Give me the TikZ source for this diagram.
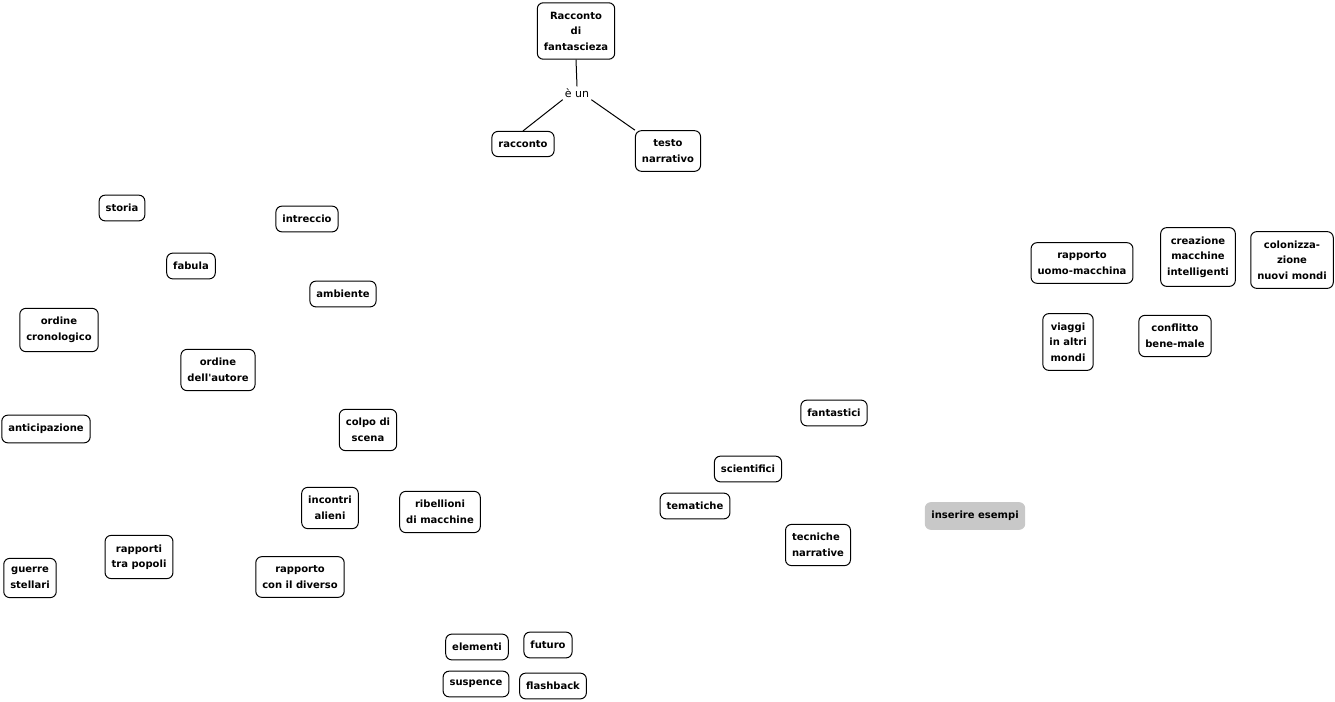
\documentclass[tikz,border=0pt]{standalone}
\usepackage{fontspec}
\setmainfont{DejaVu Sans}
\usepackage{tikz}
\usetikzlibrary{positioning}
\definecolor{mapGray}{RGB}{200,200,200}

\begin{document}
\begin{tikzpicture}[
    x=1pt, y=-1pt,
    font=\fontsize{10}{15.5}\selectfont,
    concept/.style={draw, line width=1pt, rounded corners=6pt, fill=white, align=center, inner xsep=6.5pt, inner ysep=9pt, font=\fontsize{10}{15.5}\selectfont\bfseries},
    note/.style={concept, draw=none, fill=mapGray},
    link/.style={line width=1pt}
  ]
    \useasboundingbox (0,0) rectangle (1335,701);

    % root and its link phrase
    \node[concept] (root) at (576,31) {Racconto\\di\\fantascieza};
    \node[inner sep=2pt, font=\fontsize{11}{13}\selectfont] (eun) at (577,93) {è un};
    \node[concept] (racc) at (523,144) {racconto};
    \node[concept] (testo) at (668,151) {testo\\narrativo};
    \draw[link] (root.south) -- (eun.north);
    \draw[link] (eun.south west) -- (racc.north);
    \draw[link] (eun.south east) -- (testo.north west);

    % left block
    \node[concept] (storia) at (122,208) {storia};
    \node[concept] (intreccio) at (307,219) {intreccio};
    \node[concept] (fabula) at (191,266) {fabula};
    \node[concept] (ambiente) at (343,294) {ambiente};
    \node[concept] (cronologico) at (59,330) {ordine\\cronologico};
    \node[concept] (autore) at (218,370) {ordine\\dell\textquotesingle autore};
    \node[concept] (anticipazione) at (46,429) {anticipazione};
    \node[concept] (colpo) at (368,430) {colpo di\\scena};
    \node[concept] (alieni) at (330,508) {incontri\\alieni};
    \node[concept] (ribellioni) at (440,512) {ribellioni\\di macchine};
    \node[concept] (popoli) at (139,557) {rapporti\\tra popoli};
    \node[concept] (guerre) at (30,578) {guerre\\stellari};
    \node[concept] (diverso) at (300,577) {rapporto\\con il diverso};

    % bottom
    \node[concept] (elementi) at (477,647) {elementi};
    \node[concept] (futuro) at (548,645) {futuro};
    \node[concept] (suspence) at (476,684) {suspence};
    \node[concept] (flashback) at (553,686) {flashback};

    % middle
    \node[concept] (fantastici) at (834,413) {fantastici};
    \node[concept] (scientifici) at (748,469) {scientifici};
    \node[concept] (tematiche) at (695,506) {tematiche};
    \node[concept, align=left] (tecniche) at (818,545) {tecniche\\narrative};
    \node[note] (esempi) at (975,516) {inserire esempi};

    % right block
    \node[concept] (uomo) at (1082,263) {rapporto\\uomo-macchina};
    \node[concept] (creazione) at (1198,257) {creazione\\macchine\\intelligenti};
    \node[concept] (colonizzazione) at (1292,260) {colonizza-\\zione\\nuovi mondi};
    \node[concept] (viaggi) at (1068,342) {viaggi\\in altri\\mondi};
    \node[concept] (conflitto) at (1175,336) {conflitto\\bene-male};
  \end{tikzpicture}
\end{document}
